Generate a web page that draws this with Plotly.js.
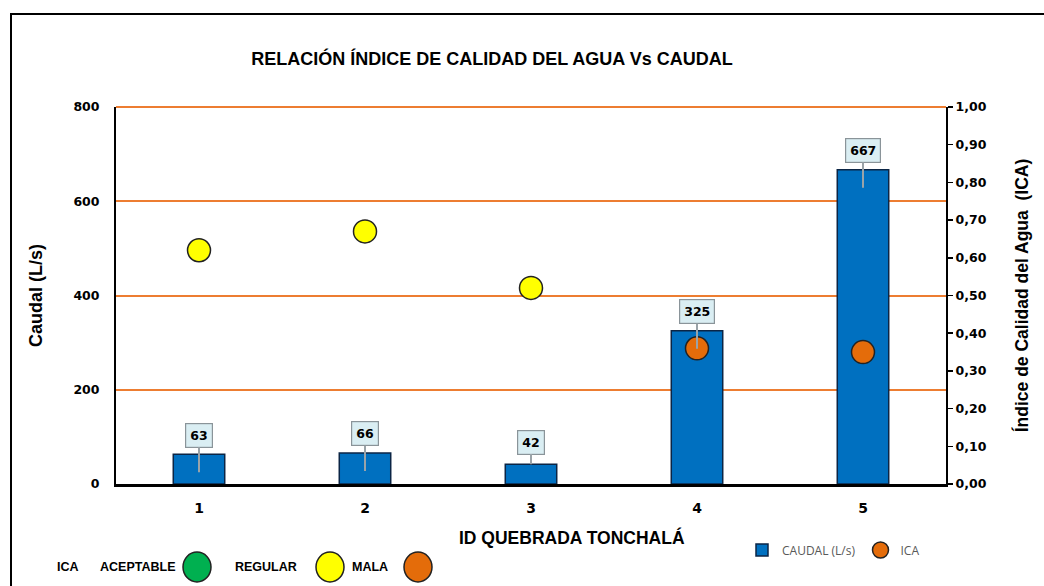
<!DOCTYPE html>
<html>
<head>
<meta charset="utf-8">
<script src="https://cdn.plot.ly/plotly-3.0.1.min.js"></script>
<style>
  html, body { margin: 0; padding: 0; background: #fff; }
  #wrap { position: relative; width: 1044px; height: 586px; overflow: hidden; }
  #chart { position: absolute; left: 0; top: 0; width: 1044px; height: 586px; }
  #frame { position: absolute; left: 10px; top: 13px; width: 1100px; height: 700px;
           border-top: 2px solid #000; border-left: 2px solid #000; pointer-events: none; }
</style>
</head>
<body>
<div id="wrap">
  <div id="chart"></div>
  <div id="frame"></div>
</div>
<script>
// ---- data ----
const categories = ["1", "2", "3", "4", "5"];
const caudal = [63, 66, 42, 325, 667];
const ica = [0.62, 0.67, 0.52, 0.36, 0.35];
const icaClase = ["REGULAR", "REGULAR", "REGULAR", "MALA", "MALA"];
const claseColores = { "ACEPTABLE": "#00B050", "REGULAR": "#FFFF00", "MALA": "#E46C0A" };
const leyendaClases = ["ACEPTABLE", "REGULAR", "MALA"];
const caudalTicks = [0, 200, 400, 600, 800];

const titleFont = { family: "Liberation Sans, Arial, sans-serif", size: 18, color: "#000", weight: 700 };
const axTitleFont = { family: "Liberation Sans, Arial, sans-serif", size: 17.5, color: "#000", weight: 700 };
const tickFont = { family: "DejaVu Sans, sans-serif", size: 12.5, color: "#000", weight: 700 };
const gridColor = "#ED7D31";

// ---- traces ----
const barTrace = {
  type: "bar", name: "CAUDAL (L/s)", x: categories, y: caudal, yaxis: "y",
  width: 0.31,
  marker: { color: "#0070C0", line: { color: "#0B2545", width: 1.5 } },
  hoverinfo: "x+y"
};

function pick(arr, cls) { return arr.filter((_, i) => icaClase[i] === cls); }

const pointTraces = ["REGULAR", "MALA"].map(cls => ({
  type: "scatter", mode: "markers", name: "ICA",
  x: pick(categories, cls), y: pick(ica, cls), yaxis: "y2",
  showlegend: cls === "MALA",
  marker: { size: 23, color: claseColores[cls], line: { color: "#222", width: 1.5 } }
}));

// ---- callout labels for bars (x given as category index) ----
const calloutAnns = categories.map((c, i) => {
  const small = caudal[i] < 50;
  return {
    x: i, y: caudal[i], xref: "x", yref: "y",
    text: "<b>" + caudal[i] + "</b>",
    showarrow: true, arrowhead: 0, arrowwidth: 2, arrowcolor: "#9aa3a8",
    ax: 0, ay: small ? -22 : -37, yshift: small ? 0 : -18,
    bgcolor: "#DAEEF3", bordercolor: "#8a9499", borderwidth: 1.2, borderpad: 4,
    font: { family: "DejaVu Sans, sans-serif", size: 12.5, color: "#000", weight: 700 }
  };
});

// ---- bottom-left ICA class key ----
const keyX = { "ACEPTABLE": 197, "REGULAR": 330, "MALA": 418 };
const keyTextX = { "ACEPTABLE": 137, "REGULAR": 266, "MALA": 370 };
const keyFont = { family: "Liberation Sans, Arial, sans-serif", size: 12.5, color: "#000", weight: 700 };
const W = 1044, H = 586, L = 116, R = 98, T = 107, B = 102;
const pw = W - L - R, ph = H - T - B;
function px(x) { return (x - L) / pw; }
function py(y) { return (H - B - y) / ph; }

const keyAnns = [{ x: px(68), y: py(567), xref: "paper", yref: "paper", text: "ICA", showarrow: false,
                   xanchor: "center", yanchor: "middle", font: keyFont }]
  .concat(leyendaClases.map(k => ({
    x: px(keyTextX[k]), y: py(567), xref: "paper", yref: "paper", text: k, showarrow: false,
    xanchor: "center", yanchor: "middle", font: keyFont
  })));
const keyShapes = leyendaClases.map(k => ({
  type: "circle", xref: "paper", yref: "paper",
  x0: px(keyX[k] - 14), x1: px(keyX[k] + 14), y0: py(567 + 15), y1: py(567 - 15),
  fillcolor: claseColores[k], line: { color: "#222", width: 1.5 }
}));
// top gridline (at the axis maximum, i.e. top of the plot area) which Plotly omits at the edge
const topGrid = {
  type: "line", xref: "paper", yref: "paper", x0: 0, x1: 1, y0: 1, y1: 1,
  line: { color: gridColor, width: 2 }, layer: "above"
};

const layout = {
  width: W, height: H,
  margin: { l: L, r: R, t: T, b: B },
  paper_bgcolor: "#fff", plot_bgcolor: "#fff",
  separators: ",.",
  showlegend: true,
  legend: { orientation: "h", x: px(742), y: py(550), xanchor: "left", yanchor: "middle",
            font: { family: "Open Sans, sans-serif", size: 12, color: "#595959" },
            itemwidth: 30, tracegroupgap: 0, bgcolor: "rgba(0,0,0,0)" },
  title: { text: "RELACIÓN ÍNDICE DE CALIDAD DEL AGUA Vs CAUDAL", font: titleFont,
           x: 492 / W, xref: "container", xanchor: "center", y: 1 - 59 / H, yref: "container", yanchor: "middle" },
  xaxis: {
    type: "category", categoryorder: "array", categoryarray: categories,
    range: [-0.5, 4.5],
    showline: true, linecolor: "#000", linewidth: 2.5, ticks: "", showgrid: false,
    tickfont: { family: "DejaVu Sans, sans-serif", size: 14, color: "#000", weight: 700 },
    ticklabelstandoff: 10, zeroline: false, fixedrange: true
  },
  yaxis: {
    range: [0, caudalTicks[caudalTicks.length - 1]], tickvals: caudalTicks, showline: true, linecolor: "#000", linewidth: 2,
    showgrid: true, gridcolor: gridColor, gridwidth: 2, zeroline: false, ticks: "",
    tickfont: tickFont, ticklabelstandoff: 12,
    title: { text: "Caudal (L/s)", font: { ...axTitleFont, size: 18 }, standoff: 26 }
  },
  yaxis2: {
    overlaying: "y", side: "right", range: [0, 1], dtick: 0.1, tickformat: ".2f",
    showline: true, linecolor: "#000", linewidth: 2, showgrid: false, zeroline: false,
    ticks: "outside", ticklen: 5, tickcolor: "#000", tickwidth: 1.5,
    tickfont: tickFont,
    title: { text: "Índice de Calidad del Agua  (ICA)", font: axTitleFont, standoff: 30 }
  },
  annotations: calloutAnns.concat(keyAnns).concat([{
    x: px(572), y: py(537), xref: "paper", yref: "paper", showarrow: false,
    xanchor: "center", yanchor: "middle",
    text: "ID QUEBRADA TONCHALÁ", font: axTitleFont
  }]),
  shapes: keyShapes.concat([topGrid])
};

Plotly.newPlot("chart", [barTrace].concat(pointTraces), layout, { displayModeBar: false, staticPlot: true });
</script>
</body>
</html>
